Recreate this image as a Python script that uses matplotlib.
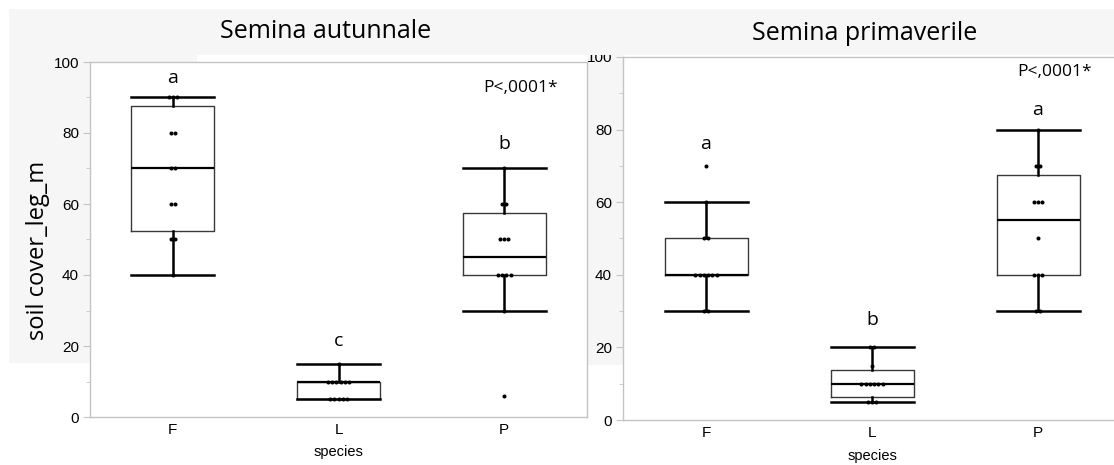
import numpy as np
import matplotlib.pyplot as plt
from matplotlib.patches import Rectangle

W, H = 1114, 465

species = ["F", "L", "P"]

# soil cover (%) per plot, autumn sowing
aut_F = [40, 50, 50, 60, 60, 70, 70, 80, 80, 90, 90, 90]
aut_L = [5, 5, 5, 5, 5, 10, 10, 10, 10, 10, 10, 15]
aut_P = [6, 30, 40, 40, 40, 40, 50, 50, 50, 60, 60, 70]

# spring sowing
spr_F = [30, 30, 40, 40, 40, 40, 40, 40, 50, 50, 60, 70]
spr_L = [5, 5, 5, 10, 10, 10, 10, 10, 10, 15, 20, 20]
spr_P = [30, 30, 40, 40, 40, 50, 60, 60, 60, 70, 70, 80]

# Tukey groups and where they sit
aut_letters = ["a", "c", "b"]
aut_letter_y = [95.5, 21.5, 77]
spr_letters = ["a", "b", "a"]
spr_letter_y = [76, 27.5, 85.5]

p_text = "P<,0001*"

BG = "#f6f6f6"
SPINE = "#c4c4c4"
TXT_FONT = "Open Sans"
NUM_FONT = "Liberation Sans"


def px_box(x0, y0, x1, y1):
    # pixel box (top-left origin) -> figure fraction rect
    return [x0 / W, (H - y1) / H, (x1 - x0) / W, (y1 - y0) / H]


def box_stats(vals):
    v = np.sort(np.asarray(vals, float))
    q1, med, q3 = np.percentile(v, [25, 50, 75], method="weibull")
    iqr = q3 - q1
    lo = v[v >= q1 - 1.5 * iqr].min()
    hi = v[v <= q3 + 1.5 * iqr].max()
    return dict(q1=q1, med=med, q3=q3, whislo=lo, whishi=hi, fliers=[])


def jitter(vals, step=0.026):
    v = np.asarray(vals, float)
    off = np.zeros_like(v)
    for u in np.unique(v):
        idx = np.where(v == u)[0]
        k = len(idx)
        off[idx] = (np.arange(k) - (k - 1) / 2) * step
    return off


def panel(ax, groups, letters, letter_y, p_y, xpad):
    stats = [box_stats(g) for g in groups]
    ax.bxp(stats, positions=range(3), widths=0.5, capwidths=0.5,
           showfliers=False,
           boxprops=dict(color="#3a3a3a", linewidth=1.0),
           whiskerprops=dict(color="black", linewidth=1.8),
           capprops=dict(color="black", linewidth=1.8),
           medianprops=dict(color="black", linewidth=1.6))
    for i, g in enumerate(groups):
        ax.plot(i + jitter(g), g, "o", color="black", markersize=2.9,
                markeredgewidth=0, zorder=5)
        ax.text(i, letter_y[i], letters[i], ha="center", va="center",
                fontsize=14, family=TXT_FONT)
    ax.text(2.1, p_y, p_text, ha="center", va="center", fontsize=12.5,
            family=TXT_FONT)

    ax.set_xlim(-0.5, 2.5)
    ax.set_ylim(0, 100)
    ax.set_xticks(range(3))
    ax.set_xticklabels(species, family=NUM_FONT, fontsize=11)
    ax.set_yticks(range(0, 101, 20))
    ax.set_yticks(range(10, 100, 20), minor=True)
    for lab in ax.get_yticklabels():
        lab.set_family(NUM_FONT)
    ax.tick_params(axis="y", which="major", direction="out", length=5,
                   color=SPINE, labelsize=11, pad=3)
    ax.tick_params(axis="y", which="minor", direction="out", length=3,
                   color=SPINE)
    ax.tick_params(axis="x", length=0, pad=4)
    for s in ax.spines.values():
        s.set_color(SPINE)
        s.set_linewidth(1)
    ax.set_xlabel("species", family=NUM_FONT, fontsize=10.5, labelpad=xpad)


fig = plt.figure(figsize=(W / 100, H / 100), dpi=100)
fig.patch.set_facecolor("white")

# light gray header / label strips
for (x0, y0, x1, y1), z in [((9, 9, 90, 363), 0), ((588, 55, 623, 365), 0),
                            ((9, 55, 197, 62), 0), ((9, 9, W, 55), 3)]:
    fig.add_artist(Rectangle((x0 / W, (H - y1) / H), (x1 - x0) / W,
                             (y1 - y0) / H, transform=fig.transFigure,
                             facecolor=BG, edgecolor="none", zorder=z))

ax1 = fig.add_axes(px_box(90, 62, 587, 417))
ax2 = fig.add_axes(px_box(623, 57, 1121, 420))

panel(ax1, [aut_F, aut_L, aut_P], aut_letters, aut_letter_y, 92.7, 6)
panel(ax2, [spr_F, spr_L, spr_P], spr_letters, spr_letter_y, 95.9, 7)

fig.text(326 / W, 1 - 32 / H, "Semina autunnale", ha="center", va="center",
         fontsize=18, family=TXT_FONT, zorder=4)
fig.text(865 / W, 1 - 33 / H, "Semina primaverile", ha="center",
         va="center", fontsize=18, family=TXT_FONT, zorder=4)
fig.text(38 / W, 1 - 250 / H, "soil cover_leg_m", rotation=90, ha="center",
         va="center", fontsize=17, family=TXT_FONT)

fig.savefig("out.png", dpi=100)
